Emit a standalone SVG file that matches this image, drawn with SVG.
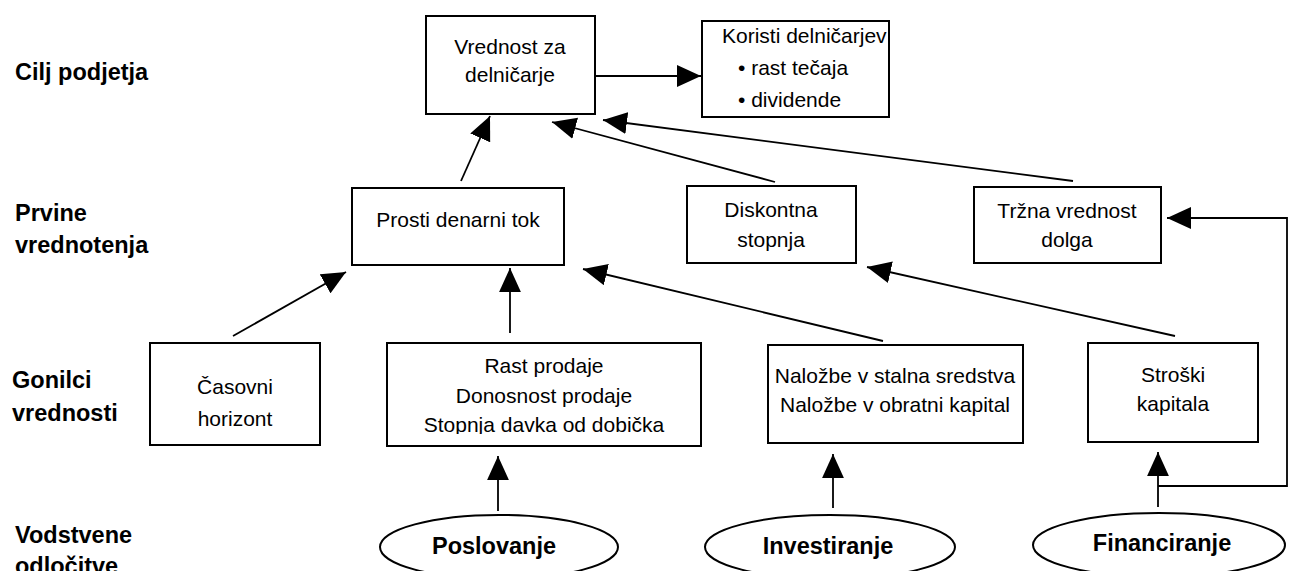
<svg xmlns="http://www.w3.org/2000/svg" width="1289" height="571" viewBox="0 0 1289 571">
  <style>
    .box { fill: #fff; stroke: #000; stroke-width: 2; }
    .txt { font-family: "Liberation Sans", Arial, sans-serif; font-size: 21px; fill: #000; }
    .c { text-anchor: middle; }
    .lbl { font-family: "Liberation Sans", Arial, sans-serif; font-size: 23.5px; font-weight: bold; fill: #000; }
    .edge { fill: none; stroke: #000; stroke-width: 1.8; }
  </style>
  <defs>
    <marker id="arrow" markerUnits="userSpaceOnUse" markerWidth="24" markerHeight="22" viewBox="0 0 22 20" refX="22" refY="10" orient="auto">
      <path d="M0,0 L22,10 L0,20 z" fill="#000"/>
    </marker>
    <clipPath id="clipRast">
      <rect x="387" y="343" width="314" height="91"/>
    </clipPath>
  </defs>
  <rect width="1289" height="571" fill="#fff"/>

  <!-- row labels -->
  <g id="labels">
    <text class="lbl" x="15" y="80">Cilj podjetja</text>
    <text class="lbl" x="15" y="221">Prvine</text>
    <text class="lbl" x="15" y="253">vrednotenja</text>
    <text class="lbl" x="12" y="388">Gonilci</text>
    <text class="lbl" x="12" y="421">vrednosti</text>
    <text class="lbl" x="15" y="543">Vodstvene</text>
    <text class="lbl" x="15" y="574">odločitve</text>
  </g>

  <!-- connectors -->
  <g id="connectors">
    <line class="edge" x1="461" y1="181" x2="490" y2="116" marker-end="url(#arrow)"/>
    <line class="edge" x1="775" y1="182" x2="552" y2="122" marker-end="url(#arrow)"/>
    <line class="edge" x1="1073" y1="181" x2="603" y2="120" marker-end="url(#arrow)"/>
    <line class="edge" x1="595" y1="76" x2="701" y2="76" marker-end="url(#arrow)"/>
    <line class="edge" x1="233" y1="336" x2="346" y2="272" marker-end="url(#arrow)"/>
    <line class="edge" x1="510" y1="333" x2="510" y2="268" marker-end="url(#arrow)"/>
    <line class="edge" x1="883" y1="341" x2="583" y2="269" marker-end="url(#arrow)"/>
    <line class="edge" x1="1175" y1="336" x2="867" y2="267" marker-end="url(#arrow)"/>
    <line class="edge" x1="498" y1="511" x2="498" y2="456" marker-end="url(#arrow)"/>
    <line class="edge" x1="833" y1="508" x2="833" y2="454" marker-end="url(#arrow)"/>
    <line class="edge" x1="1158" y1="507" x2="1158" y2="452" marker-end="url(#arrow)"/>
    <polyline class="edge" points="1158,486 1287,486 1287,218 1167,218" marker-end="url(#arrow)"/>
  </g>

  <!-- goal -->
  <g id="vrednost">
    <rect class="box" x="426" y="16" width="169" height="98"/>
    <text class="txt c" x="510" y="54">Vrednost za</text>
    <text class="txt c" x="510" y="82">delničarje</text>
  </g>
  <g id="koristi">
    <rect class="box" x="702" y="21" width="187" height="96"/>
    <text class="txt" x="722" y="43">Koristi delničarjev</text>
    <text class="txt" x="738" y="75">• rast tečaja</text>
    <text class="txt" x="738" y="107">• dividende</text>
  </g>

  <!-- valuation elements -->
  <g id="prosti">
    <rect class="box" x="352" y="188" width="212" height="77"/>
    <text class="txt c" x="458" y="227">Prosti denarni tok</text>
  </g>
  <g id="diskontna">
    <rect class="box" x="687" y="186" width="169" height="77"/>
    <text class="txt c" x="771" y="217">Diskontna</text>
    <text class="txt c" x="771" y="247">stopnja</text>
  </g>
  <g id="trzna">
    <rect class="box" x="974" y="187" width="187" height="76"/>
    <text class="txt c" x="1067" y="218">Tržna vrednost</text>
    <text class="txt c" x="1067" y="247">dolga</text>
  </g>

  <!-- value drivers -->
  <g id="casovni">
    <rect class="box" x="150" y="343" width="170" height="102"/>
    <text class="txt c" x="235" y="394">Časovni</text>
    <text class="txt c" x="235" y="426">horizont</text>
  </g>
  <g id="rast">
    <rect class="box" x="387" y="343" width="314" height="103"/>
    <text class="txt c" x="544" y="373">Rast prodaje</text>
    <text class="txt c" x="544" y="403">Donosnost prodaje</text>
    <text class="txt c" x="544" y="432" clip-path="url(#clipRast)">Stopnja davka od dobička</text>
  </g>
  <g id="nalozbe">
    <rect class="box" x="768" y="345" width="255" height="98"/>
    <text class="txt c" x="895" y="383">Naložbe v stalna sredstva</text>
    <text class="txt c" x="895" y="412">Naložbe v obratni kapital</text>
  </g>
  <g id="stroski">
    <rect class="box" x="1088" y="343" width="170" height="99"/>
    <text class="txt c" x="1173" y="382">Stroški</text>
    <text class="txt c" x="1173" y="411">kapitala</text>
  </g>

  <!-- management decisions -->
  <g id="poslovanje">
    <ellipse class="box" cx="499" cy="547" rx="119" ry="32"/>
    <text class="lbl c" x="494" y="554">Poslovanje</text>
  </g>
  <g id="investiranje">
    <ellipse class="box" cx="830" cy="547" rx="125" ry="32"/>
    <text class="lbl c" x="828" y="554">Investiranje</text>
  </g>
  <g id="financiranje">
    <ellipse class="box" cx="1159" cy="545" rx="126" ry="32"/>
    <text class="lbl c" x="1162" y="551">Financiranje</text>
  </g>
</svg>
